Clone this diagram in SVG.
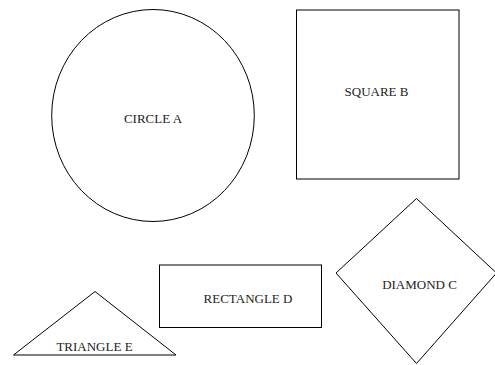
<svg xmlns="http://www.w3.org/2000/svg" width="495" height="365" viewBox="0 0 495 365">
<style>
.s{fill:#fff;stroke:#000;stroke-width:1}
.t{font-family:"Liberation Serif","Times New Roman",serif;font-size:13px;fill:#222;text-anchor:middle}
</style>
<rect width="495" height="365" fill="#fff"/>
<g id="connectors"></g>
<g id="circleA"><ellipse class="s" cx="153" cy="115.5" rx="101.3" ry="106"/><text class="t" x="153" y="122.5">CIRCLE A</text></g>
<g id="squareB"><rect class="s" x="296.5" y="10" width="162.5" height="169"/><text class="t" x="376.5" y="96">SQUARE B</text></g>
<g id="diamondC"><polygon class="s" points="416.5,198.5 496.5,273 416.5,363.5 336,273"/><text class="t" x="419.5" y="288.5">DIAMOND C</text></g>
<g id="rectangleD"><rect class="s" x="159.5" y="265" width="162" height="62.5"/><text class="t" x="248" y="303">RECTANGLE D</text></g>
<g id="triangleE"><polygon class="s" points="95,291.5 176,355 13.5,355"/><text class="t" x="94.5" y="351">TRIANGLE E</text></g>
</svg>
